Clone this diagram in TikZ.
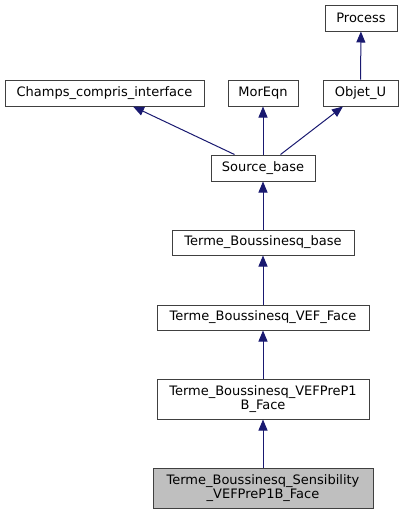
\documentclass[tikz,border=0pt]{standalone}
\usepackage{fontspec}
\setmainfont{DejaVu Sans}
\usetikzlibrary{%
  arrows.meta,%
  positioning%
}
\definecolor{edgeblue}{HTML}{191970}

\begin{document}
\begin{tikzpicture}
  [
  x=1pt, y=-1pt, line width=1pt,
  font=\fontsize{13}{14}\selectfont,
  classnode/.style={rectangle, minimum height=26pt, inner sep=0pt, draw=black!75, fill=white, align=center},
  curnode/.style={classnode, fill=black!25},
  inherit/.style={draw=edgeblue, {Triangle[length=11pt,width=9pt,fill=edgeblue]}-}
  ]

\useasboundingbox (0,0) rectangle (403,515);

\node[classnode, minimum width=72pt] (process) at (361,18) {Process};

\node[classnode, minimum width=199pt] (champs) at (104.5,93) {Champs\_compris\_interface};
\node[classnode, minimum width=70pt] (moreqn) at (263,93) {MorEqn};
\node[classnode, minimum width=75pt] (objetu) at (360.5,93) {Objet\_U};

\node[classnode, minimum width=104pt] (srcbase) at (263,168) {Source\_base};
\node[classnode, minimum width=182pt, minimum height=25pt] (tbbase) at (263,242.5) {Terme\_Boussinesq\_base};
\node[classnode, minimum width=212pt, minimum height=25pt] (tbvef) at (263,317.5) {Terme\_Boussinesq\_VEF\_Face};
\node[classnode, minimum width=212pt, minimum height=40pt] (tbpre) at (263,399) {Terme\_Boussinesq\_VEFPreP1\\B\_Face};
\node[curnode, minimum width=220pt, minimum height=40pt] (tbsens) at (263,488) {Terme\_Boussinesq\_Sensibility\\\_VEFPreP1B\_Face};

\draw[inherit] (process) -- (objetu);
\draw[inherit] (champs) -- (srcbase);
\draw[inherit] (moreqn) -- (srcbase);
\draw[inherit] (objetu) -- (srcbase);
\draw[inherit] (srcbase) -- (tbbase);
\draw[inherit] (tbbase) -- (tbvef);
\draw[inherit] (tbvef) -- (tbpre);
\draw[inherit] (tbpre) -- (tbsens);
\end{tikzpicture}
\end{document}
